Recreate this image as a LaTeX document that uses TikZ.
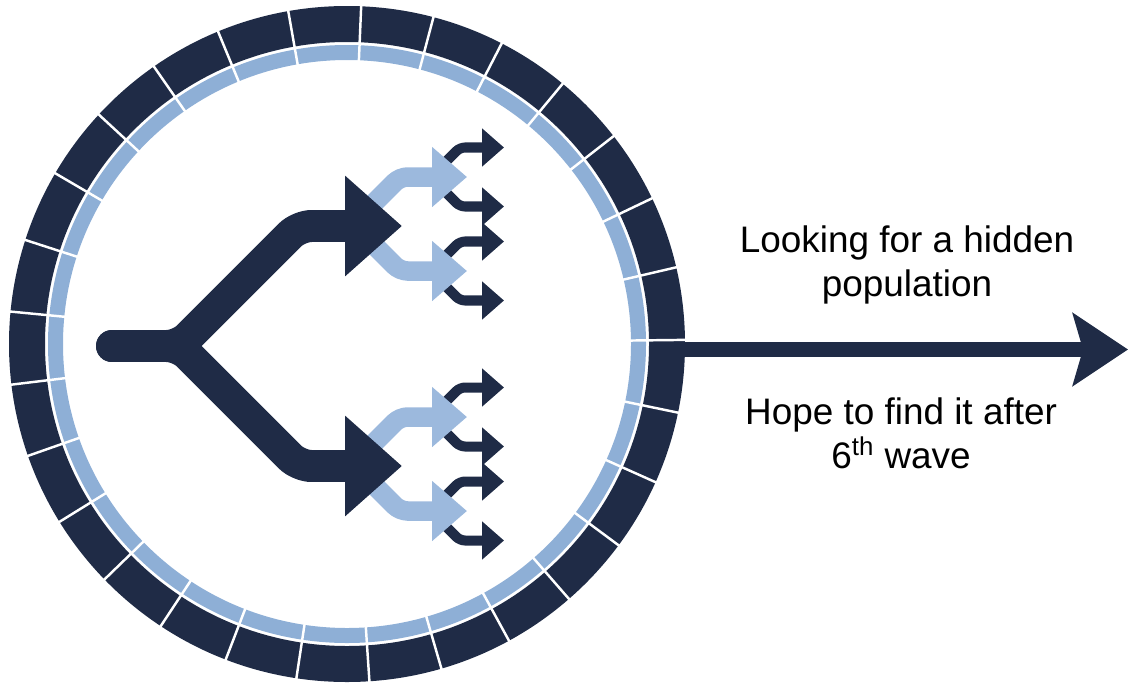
\documentclass[tikz,border=0pt]{standalone}
\usepackage{fontspec}
\setmainfont{Liberation Sans}
\usepackage{tikz}
\usetikzlibrary{arrows.meta,calc}

\definecolor{granat}{HTML}{1F2B46}
\definecolor{niebieski}{HTML}{8EAFD6}
\definecolor{jasny}{HTML}{9CB9DD}

\begin{document}
\begin{tikzpicture}[x=0.02cm, y=-0.02cm]
\tikzset{
    %czubek strzalki
    >={Stealth[length=31.3pt,width=41pt,inset=5.7pt]},
    %galezie drzewa
    galaz/.style={
           draw=granat, line width=18.2pt,
           rounded corners=0.25cm, line cap=round,
           -{Triangle[length=32.4pt,width=55.2pt]}},
    galazj/.style={
           draw=jasny, line width=11.1pt,
           rounded corners=0.15cm,
           -{Triangle[length=19.9pt,width=33pt]}},
    galazm/.style={
           draw=granat, line width=5.7pt,
           rounded corners=0.1cm,
           -{Triangle[length=12.5pt,width=21pt]}},
    %pierscien
    przerwa/.style={draw=white, line width=1.4pt},
    tekst/.style={
           align=center, text=black,
           font=\fontsize{21}{25}\selectfont}
}
\useasboundingbox (0,0) rectangle (1128,683);

%pierscien
\coordinate (srodek) at (347,344);
\fill[granat, even odd rule] (srodek) circle[radius=338] (srodek) circle[radius=302];
\fill[niebieski, even odd rule] (srodek) circle[radius=299] (srodek) circle[radius=284];
\foreach \i in {0,...,28}{
    \draw[przerwa] ($(srodek)+(\i*360/29-0.7:280)$) -- ($(srodek)+(\i*360/29-0.7:340)$);
}

%strzalka w prawo
\coordinate (wyjscie) at (683,349.5);
\coordinate (cel) at (1128,349.5);
\draw[->, granat, line width=8.8pt] (wyjscie) -- (cel);

%NODy
\node(szukanie)  [tekst] at (907,265)    {Looking for a hidden\\population};
\node(nadzieja)  [tekst] at (901,433.5)  {Hope to find it after\\6\textsuperscript{th} wave};

%drzewo
\coordinate (pien) at (112,346);
\coordinate (rozwidlenie) at (179,346);
\foreach \s in {-1,1}{
    \pgfmathsetmacro{\yd}{346+120*\s}
    \pgfmathsetmacro{\yj}{\yd-2}
    %male strzalki
    \foreach \t in {-1,1}{
        \pgfmathsetmacro{\yl}{\yj+47*\t}
        \foreach \u in {-1,1}{
            \draw[galazm] (430.5,\yl) -- (460,\yl+29.5*\u) -- (504,\yl+29.5*\u);
        }
    }
    %jasne strzalki
    \foreach \t in {-1,1}{
        \draw[galazj] (353,\yj) -- (400,\yj+47*\t) -- (467,\yj+47*\t);
    }
    %duza galaz
    \draw[galaz] (pien) -- (rozwidlenie) -- (299,\yd) -- (402,\yd);
}
\end{tikzpicture}
\end{document}
